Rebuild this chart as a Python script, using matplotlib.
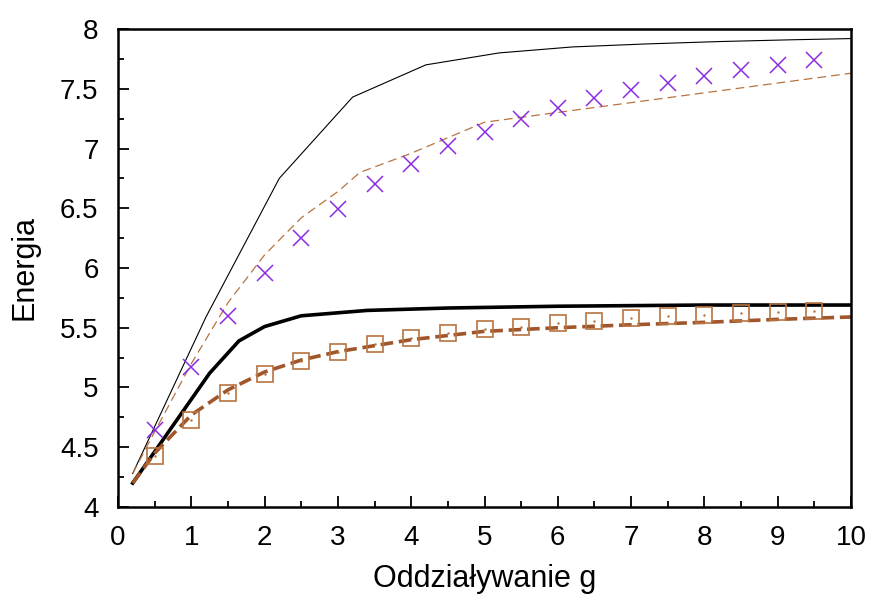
import matplotlib
matplotlib.use("Agg")
import matplotlib.pyplot as plt
from matplotlib.ticker import MultipleLocator

plt.rcParams['font.family'] = ['Liberation Sans', 'DejaVu Sans']

# thin black solid
g_thin_black = [0.2, 1.2, 2.2, 3.2, 4.2, 5.2, 6.2, 7.2, 8.2, 9.2, 10.0]
e_thin_black = [4.28, 5.59, 6.75, 7.43, 7.70, 7.80, 7.85, 7.875, 7.895, 7.91, 7.92]

# thick black solid
g_thick_black = [0.2, 1.25, 1.65, 2.0, 2.5, 3.4, 4.5, 6.0, 8.0, 10.0]
e_thick_black = [4.20, 5.12, 5.39, 5.51, 5.60, 5.645, 5.665, 5.68, 5.69, 5.69]

# thin brown dashed
g_thin_dash = [0.2, 0.5, 1.0, 1.5, 2.0, 2.5, 3.0, 3.3, 4.0, 5.0, 10.0]
e_thin_dash = [4.28, 4.63, 5.20, 5.71, 6.11, 6.42, 6.64, 6.80, 6.96, 7.22, 7.63]

# thick brown dashed
g_thick_dash = [0.2, 0.5, 1.0, 1.5, 2.0, 2.5, 3.0, 3.5, 4.0, 5.0, 6.0, 7.0, 8.0, 9.0, 10.0]
e_thick_dash = [4.20, 4.45, 4.77, 4.98, 5.13, 5.23, 5.30, 5.35, 5.40, 5.47, 5.50, 5.525, 5.545, 5.57, 5.59]

# crosses
g_cross = [0.5, 1.0, 1.5, 2.0, 2.5, 3.0, 3.5, 4.0, 4.5, 5.0, 5.5, 6.0, 6.5, 7.0, 7.5, 8.0, 8.5, 9.0, 9.5]
e_cross = [4.64, 5.17, 5.60, 5.96, 6.25, 6.49, 6.70, 6.87, 7.02, 7.14, 7.25, 7.34, 7.42, 7.49, 7.55, 7.61, 7.66, 7.70, 7.74]

# squares
g_square = [0.5, 1.0, 1.5, 2.0, 2.5, 3.0, 3.5, 4.0, 4.5, 5.0, 5.5, 6.0, 6.5, 7.0, 7.5, 8.0, 8.5, 9.0, 9.5]
e_square = [4.43, 4.73, 4.95, 5.11, 5.22, 5.30, 5.36, 5.41, 5.46, 5.49, 5.51, 5.54, 5.56, 5.58, 5.60, 5.61, 5.62, 5.63, 5.64]

y_ticks = [4, 4.5, 5, 5.5, 6, 6.5, 7, 7.5, 8]
y_tick_labels = ['4', '4.5', '5', '5.5', '6', '6.5', '7', '7.5', '8']

fig = plt.figure(figsize=(8.73, 5.97), dpi=100)
ax = fig.add_axes([0.1352, 0.1508, 0.8396, 0.8006])

brown = '#a0562a'
brown_light = '#b8733f'
purple = '#8a2be2'

ax.plot(g_thin_black, e_thin_black, color='black', lw=0.8)
ax.plot(g_thick_black, e_thick_black, color='black', lw=2.6)
ax.plot(g_thin_dash, e_thin_dash, color=brown_light, lw=0.9, dashes=(7, 4))
ax.plot(g_thick_dash, e_thick_dash, color=brown, lw=2.6, dashes=(3.5, 1.6))
ax.plot(g_cross, e_cross, ls='none', marker='x', ms=12, mew=1.1, color=purple)
ax.plot(g_square, e_square, ls='none', marker='s', ms=12, mew=1.2, mfc='none', mec=brown_light)
ax.plot(g_square, e_square, ls='none', marker='.', ms=1.5, color=brown_light)

ax.set_xlim(0, 10)
ax.set_ylim(4, 8)
ax.xaxis.set_major_locator(MultipleLocator(1))
ax.xaxis.set_minor_locator(MultipleLocator(0.5))
ax.set_yticks(y_ticks)
ax.set_yticklabels(y_tick_labels)
ax.yaxis.set_minor_locator(MultipleLocator(0.25))
ax.tick_params(which='both', direction='in', top=False, right=False, labelsize=20, width=1.3)
ax.tick_params(which='major', length=8)
ax.tick_params(which='minor', length=4)
ax.tick_params(axis='y', which='major', pad=14)
ax.tick_params(axis='x', which='major', pad=13)
for s in ax.spines.values():
    s.set_linewidth(1.8)

ax.set_xlabel('Oddziaływanie g', fontsize=22, labelpad=9)
ax.set_ylabel('Energia', fontsize=22, labelpad=15)

fig.savefig('out.png', dpi=100)
